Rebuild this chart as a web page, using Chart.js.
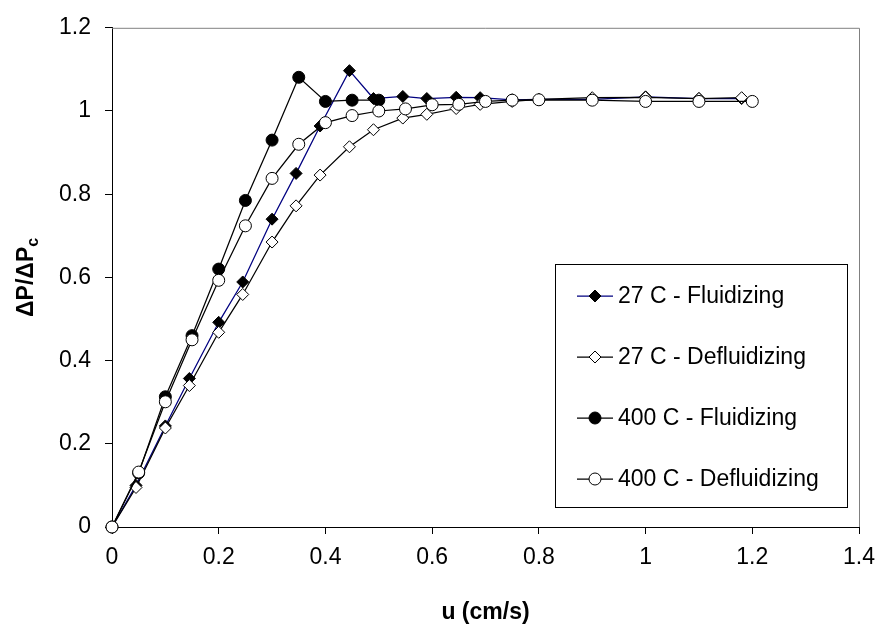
<!DOCTYPE html>
<html>
<head>
<meta charset="utf-8">
<script src="https://cdn.jsdelivr.net/npm/chart.js@4.4.0/dist/chart.umd.min.js"></script>
<style>
  html, body { margin: 0; padding: 0; background: #fff; }
</style>
</head>
<body>
<canvas id="chart" width="885" height="630"></canvas>
<script>
// axis ticks
const xTicks = [0, 0.2, 0.4, 0.6, 0.8, 1, 1.2, 1.4];
const yTicks = [0, 0.2, 0.4, 0.6, 0.8, 1, 1.2];

// series names (legend order)
const seriesNames = ['27 C - Fluidizing', '27 C - Defluidizing', '400 C - Fluidizing', '400 C - Defluidizing'];

// 27 C runs (velocity in cm/s, normalised pressure drop)
const u27 = [0, 0.045, 0.1, 0.145, 0.2, 0.245, 0.3, 0.345, 0.39, 0.445, 0.49, 0.545, 0.59, 0.645, 0.69, 0.75, 0.8, 0.9, 1.0, 1.1, 1.18];
const fluid27 = [0, 0.10, 0.243, 0.357, 0.492, 0.589, 0.74, 0.85, 0.964, 1.097, 1.03, 1.035, 1.03, 1.033, 1.032, 1.027, 1.028, 1.028, 1.034, 1.03, 1.03];
const defluid27 = [0, 0.095, 0.238, 0.34, 0.468, 0.559, 0.685, 0.772, 0.846, 0.914, 0.955, 0.983, 0.992, 1.006, 1.016, 1.023, 1.028, 1.032, 1.033, 1.03, 1.032];

// 400 C runs
const u400f = [0, 0.05, 0.1, 0.15, 0.2, 0.25, 0.3, 0.35, 0.4, 0.45, 0.5];
const fluid400 = [0, 0.13, 0.313, 0.46, 0.62, 0.785, 0.93, 1.081, 1.023, 1.026, 1.026];
const u400d = [0, 0.05, 0.1, 0.15, 0.2, 0.25, 0.3, 0.35, 0.4, 0.45, 0.5, 0.55, 0.6, 0.65, 0.7, 0.75, 0.8, 0.9, 1.0, 1.1, 1.2];
const defluid400 = [0, 0.132, 0.301, 0.45, 0.593, 0.724, 0.838, 0.92, 0.972, 0.989, 1.0, 1.005, 1.015, 1.016, 1.023, 1.026, 1.027, 1.026, 1.023, 1.023, 1.023];

const FONT = "'Liberation Sans', Arial, sans-serif";

function toPoints(xs, ys) {
    return xs.map((x, i) => ({ x: x, y: ys[i] }));
}

function fmt(v) {
    return String(Number(v.toFixed(2)));
}

const styles = [
    { line: '#000080', fill: '#000', shape: 'rectRot', r: 6 },
    { line: '#000', fill: '#fff', shape: 'rectRot', r: 6 },
    { line: '#000', fill: '#000', shape: 'circle', r: 6 },
    { line: '#000', fill: '#fff', shape: 'circle', r: 6 },
];

const pointSets = [
    toPoints(u27, fluid27),
    toPoints(u27, defluid27),
    toPoints(u400f, fluid400),
    toPoints(u400d, defluid400),
];

const datasets = seriesNames.map((name, i) => ({
    label: name,
    data: pointSets[i],
    showLine: true,
    borderColor: styles[i].line,
    borderWidth: 1.25,
    pointStyle: styles[i].shape,
    pointRadius: styles[i].r,
    pointBackgroundColor: styles[i].fill,
    pointBorderColor: '#000',
    pointBorderWidth: 1,
    order: 4 - i,
    clip: false,
}));

function marker(ctx, s, x, y) {
    ctx.beginPath();
    if (s.shape === 'circle') {
        ctx.arc(x, y, s.r, 0, Math.PI * 2);
    } else {
        ctx.moveTo(x, y - s.r);
        ctx.lineTo(x + s.r, y);
        ctx.lineTo(x, y + s.r);
        ctx.lineTo(x - s.r, y);
        ctx.closePath();
    }
    ctx.fillStyle = s.fill;
    ctx.fill();
    ctx.lineWidth = 1;
    ctx.strokeStyle = '#000';
    ctx.stroke();
}

// grey frame on top/right, titles and the boxed legend
const decor = {
    id: 'decor',
    beforeDatasetsDraw(chart) {
        const { ctx, chartArea: a } = chart;
        ctx.save();
        ctx.strokeStyle = '#808080';
        ctx.lineWidth = 1;
        ctx.beginPath();
        ctx.moveTo(a.left, a.top + 0.5);
        ctx.lineTo(a.right + 0.5, a.top + 0.5);
        ctx.lineTo(a.right + 0.5, a.bottom);
        ctx.stroke();
        ctx.restore();
    },
    afterDraw(chart) {
        const { ctx, chartArea: a } = chart;
        ctx.save();
        // x title
        ctx.fillStyle = '#000';
        ctx.font = 'bold 23px ' + FONT;
        ctx.textAlign = 'center';
        ctx.textBaseline = 'middle';
        ctx.fillText('u (cm/s)', (a.left + a.right) / 2, 613);

        // y title with subscript
        ctx.translate(25, (a.top + a.bottom) / 2);
        ctx.rotate(-Math.PI / 2);
        ctx.textAlign = 'left';
        ctx.textBaseline = 'alphabetic';
        ctx.font = 'bold 23px ' + FONT;
        const main = '\u0394P/\u0394P';
        const wMain = ctx.measureText(main).width;
        ctx.font = 'bold 16px ' + FONT;
        const wSub = ctx.measureText('c').width;
        const x0 = -(wMain + wSub) / 2;
        ctx.font = 'bold 23px ' + FONT;
        ctx.fillText(main, x0, 8);
        ctx.font = 'bold 16px ' + FONT;
        ctx.fillText('c', x0 + wMain, 13);
        ctx.restore();

        // legend
        ctx.save();
        ctx.fillStyle = '#fff';
        ctx.fillRect(555, 264, 292, 243);
        ctx.strokeStyle = '#000';
        ctx.lineWidth = 1;
        ctx.strokeRect(555.5, 264.5, 292, 243);
        seriesNames.forEach((name, i) => {
            const y = 296 + i * 61;
            ctx.strokeStyle = styles[i].line;
            ctx.lineWidth = 1.25;
            ctx.beginPath();
            ctx.moveTo(577, y);
            ctx.lineTo(613, y);
            ctx.stroke();
            marker(ctx, styles[i], 595, y);
            ctx.fillStyle = '#000';
            ctx.font = '23px ' + FONT;
            ctx.textAlign = 'left';
            ctx.textBaseline = 'middle';
            ctx.fillText(name, 618, y + 1);
        });
        ctx.restore();
    }
};

new Chart(document.getElementById('chart').getContext('2d'), {
    type: 'scatter',
    data: { datasets: datasets },
    options: {
        responsive: false,
        animation: false,
        layout: { padding: { top: 17, right: 22, left: 0, bottom: 0 } },
        plugins: { legend: { display: false }, tooltip: { enabled: false } },
        scales: {
            x: {
                type: 'linear',
                min: xTicks[0],
                max: xTicks[xTicks.length - 1],
                afterBuildTicks: (s) => { s.ticks = xTicks.map(v => ({ value: v })); },
                afterFit: (s) => { s.height = 103; },
                grid: { drawOnChartArea: false, drawTicks: true, tickLength: 7, color: '#000' },
                border: { color: '#000', width: 1 },
                ticks: {
                    color: '#000',
                    padding: 10,
                    maxRotation: 0,
                    font: { family: FONT, size: 23 },
                    callback: (v) => fmt(v),
                },
            },
            y: {
                type: 'linear',
                min: yTicks[0],
                max: yTicks[yTicks.length - 1],
                afterBuildTicks: (s) => { s.ticks = yTicks.map(v => ({ value: v })); },
                afterFit: (s) => { s.width = 112; },
                grid: { drawOnChartArea: false, drawTicks: true, tickLength: 7, color: '#000' },
                border: { color: '#000', width: 1 },
                ticks: {
                    color: '#000',
                    padding: 14,
                    font: { family: FONT, size: 23 },
                    callback: (v) => fmt(v),
                },
            },
        },
    },
    plugins: [decor],
});
</script>
</body>
</html>
